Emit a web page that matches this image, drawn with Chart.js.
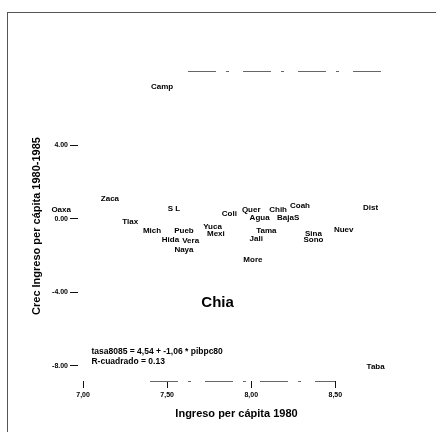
<!DOCTYPE html>
<html>
<head>
<meta charset="utf-8">
<script src="https://cdn.jsdelivr.net/npm/chart.js@4"></script>
<style>
  html, body { margin: 0; padding: 0; background: #fff; }
  #wrap { position: relative; width: 436px; height: 432px; }
  #frame { position: absolute; left: 7px; top: 12px; width: 429px; height: 420px;
           border-left: 1px solid #555; border-top: 1px solid #555; }
  canvas { position: absolute; left: 0; top: 0; }
</style>
</head>
<body>
<div id="wrap">
  <div id="frame"></div>
  <canvas id="chart" width="436" height="432"></canvas>
</div>
<script>
// estados (abreviaturas) con ingreso per cápita 1980 (log) y crecimiento 1980-1985
const estados = ['Camp', 'Oaxa', 'Zaca', 'S L', 'Tlax', 'Mich', 'Pueb', 'Yuca', 'Mexi', 'Hida', 'Vera', 'Naya',
                 'Coli', 'Quer', 'Chih', 'Coah', 'Agua', 'BajaS', 'Tama', 'Jali', 'Sina', 'Sono', 'Nuev', 'Dist',
                 'More', 'Taba'];
const pibpc80 = [7.47, 6.87, 7.16, 7.54, 7.28, 7.41, 7.60, 7.77, 7.79, 7.52, 7.64, 7.60,
                 7.87, 8.00, 8.16, 8.29, 8.05, 8.22, 8.09, 8.03, 8.37, 8.37, 8.55, 8.71,
                 8.01, 8.74];
const tasa8085 = [7.18, 0.49, 1.09, 0.54, -0.16, -0.65, -0.65, -0.44, -0.82, -1.14, -1.20, -1.69,
                  0.27, 0.49, 0.49, 0.71, 0.05, 0.05, -0.65, -1.09, -0.82, -1.14, -0.60, 0.60,
                  -2.23, -8.05];
// Chiapas se rotula aparte, con letra grande
const chiaX = 7.80;
const chiaY = -4.57;
const xTicks = [7.0, 7.5, 8.0, 8.5];
const yTicks = [-8, -4, 0, 4];
const ecuacion = 'tasa8085 = 4,54 + -1,06 * pibpc80';
const rCuadrado = 'R-cuadrado = 0.13';

const FONT = '"Liberation Sans", Arial, sans-serif';

const puntos = pibpc80.map((x, i) => ({ x: x, y: tasa8085[i], label: estados[i] }));
puntos.push({ x: chiaX, y: chiaY, label: 'Chia', big: true });

// rotulos de los puntos, la ecuacion y el marco del grafico
const rotulos = {
  id: 'rotulos',
  afterDatasetsDraw(chart) {
    const ctx = chart.ctx;
    const xs = chart.scales.x, ys = chart.scales.y;
    const area = chart.chartArea;
    ctx.save();
    ctx.fillStyle = '#000';
    ctx.textAlign = 'center';
    ctx.textBaseline = 'middle';
    puntos.forEach(p => {
      ctx.font = p.big ? 'bold 15px ' + FONT : 'bold 8px ' + FONT;
      ctx.fillText(p.label, xs.getPixelForValue(p.x), ys.getPixelForValue(p.y));
    });
    ctx.textAlign = 'left';
    ctx.font = 'bold 8.5px ' + FONT;
    ctx.fillText(ecuacion, xs.getPixelForValue(7.05), ys.getPixelForValue(-7.24));
    ctx.fillText(rCuadrado, xs.getPixelForValue(7.05), ys.getPixelForValue(-7.78));

    // bordes superior e inferior del area, borrosos en el original
    ctx.strokeStyle = '#666';
    ctx.lineWidth = 1;
    ctx.setLineDash([28, 10, 3, 14]);
    ctx.beginPath();
    ctx.moveTo(area.left + 110, area.top + 0.5);
    ctx.lineTo(area.right - 10, area.top + 0.5);
    ctx.moveTo(area.left + 72, area.bottom + 0.5);
    ctx.lineTo(area.right - 60, area.bottom + 0.5);
    ctx.stroke();
    ctx.restore();
  }
};

new Chart(document.getElementById('chart'), {
  type: 'scatter',
  data: {
    datasets: [{
      data: puntos,
      pointRadius: 0,
      pointHoverRadius: 0
    }]
  },
  options: {
    responsive: false,
    animation: false,
    events: [],
    layout: { padding: { left: 30, top: 71, right: 41, bottom: 11 } },
    plugins: { legend: { display: false }, tooltip: { enabled: false } },
    scales: {
      x: {
        type: 'linear',
        min: 6.97,
        max: 8.855,
        afterBuildTicks: s => { s.ticks = xTicks.map(v => ({ value: v })); },
        afterFit: s => { s.height = 40; },
        border: { display: false },
        grid: { drawOnChartArea: false, drawTicks: true, tickLength: 7, color: '#111' },
        ticks: {
          color: '#000',
          padding: 3,
          font: { family: FONT, size: 7, weight: 'bold' },
          callback: v => v.toFixed(2).replace('.', ',')
        },
        title: {
          display: true,
          text: 'Ingreso per cápita 1980',
          color: '#000',
          padding: { top: 4, bottom: 0 },
          font: { family: FONT, size: 11, weight: 'bold' }
        }
      },
      y: {
        type: 'linear',
        min: -8.82,
        max: 8.05,
        afterBuildTicks: s => { s.ticks = yTicks.map(v => ({ value: v })); },
        afterFit: s => { s.width = 48; },
        border: { display: false },
        grid: { drawOnChartArea: false, drawTicks: true, tickLength: 8, color: '#111' },
        ticks: {
          color: '#000',
          padding: 2,
          font: { family: FONT, size: 7, weight: 'bold' },
          callback: v => v.toFixed(2)
        },
        title: {
          display: true,
          text: 'Crec Ingreso per cápita 1980-1985',
          color: '#000',
          padding: { top: 0, bottom: 2 },
          font: { family: FONT, size: 11, weight: 'bold' }
        }
      }
    }
  },
  plugins: [rotulos]
});
</script>
</body>
</html>
